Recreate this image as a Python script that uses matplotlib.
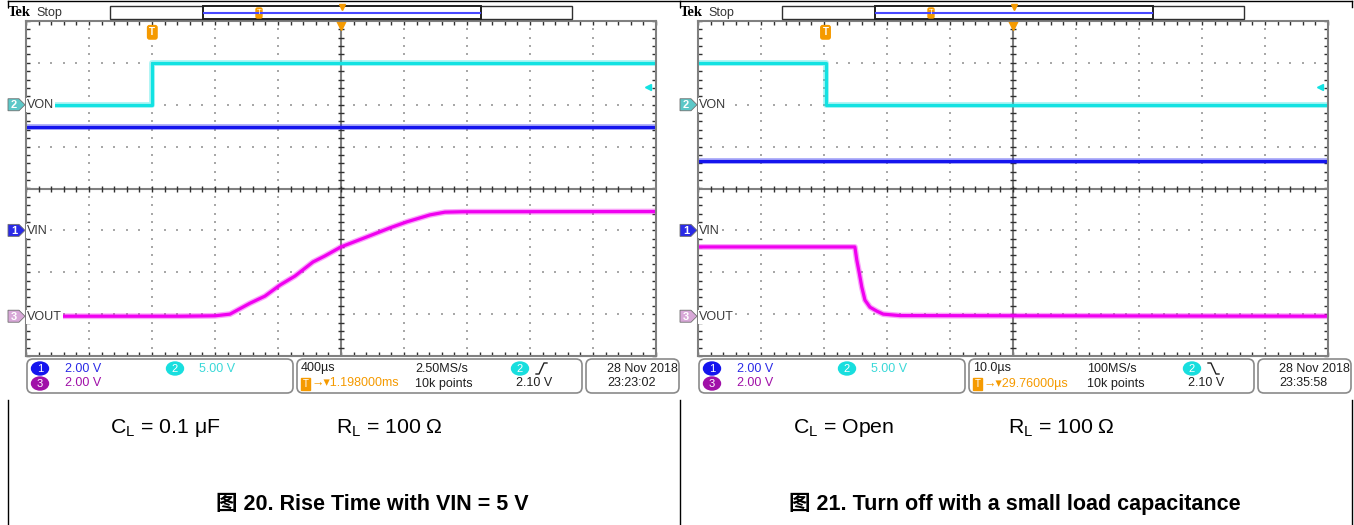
import matplotlib as mpl

mpl.use("Agg")
import matplotlib.pyplot as plt
import numpy as np
from matplotlib import font_manager
from matplotlib.patches import Polygon, FancyBboxPatch, Rectangle, Ellipse

# ---------------- data (time in us, voltage in V) ----------------
# Fig 20: rise time, 400 us/div
rise_t_von = [-2000, -1198, -1198, 2000]
rise_von = [0.0, 0.0, 5.0, 5.0]
rise_t_vin = [-2000, 2000]
rise_vin = [4.96, 4.96]
rise_t_vout = [-2000, -1020, -800, -705, -578, -483, -387, -292, -178, -102, 0,
               165, 311, 419, 565, 660, 775, 2000]
rise_vout = [0.0, 0.0, 0.02, 0.10, 0.62, 0.96, 1.49, 1.92, 2.59, 2.88, 3.31,
             3.79, 4.22, 4.51, 4.84, 4.97, 4.99, 5.0]

# Fig 21: turn off, 10 us/div
off_t_von = [-50, -29.76, -29.76, 50]
off_von = [5.0, 5.0, 0.0, 0.0]
off_t_vin = [-50, 50]
off_vin = [3.31, 3.31]
off_t_vout = [-50, -25.1, -24.8, -24.4, -24.0, -23.5, -22.7, -21.6, -20.6, -17.9, 50]
off_vout = [3.31, 3.31, 2.69, 2.06, 1.39, 0.77, 0.43, 0.24, 0.10, 0.03, 0.0]

W, H = 1354, 525
CYAN = "#12e2e2"
BLUE = "#1414ee"
MAG = "#f000f0"
PURPLE = "#a010a8"
ORANGE = "#f59a00"
GRAY = "#808080"

names = {f.name for f in font_manager.fontManager.ttflist}
UI = "Liberation Sans Narrow" if "Liberation Sans Narrow" in names else "Liberation Sans"
plt.rcParams["mathtext.default"] = "regular"

# channel: (volts/div, marker offset in div, colour, marker fill, label)
channels = {
    1: (2.0, -1.0, BLUE, "#2a2ae6", "VIN"),
    2: (5.0, 2.0, CYAN, "#5cc8c8", "VON"),
    3: (2.0, -3.05, MAG, "#d8a8d8", "VOUT"),
}

fig = plt.figure(figsize=(W / 100, H / 100), dpi=100)
bg = fig.add_axes([0, 0, 1, 1])
bg.set_xlim(0, W)
bg.set_ylim(H, 0)
bg.axis("off")
bg.set_zorder(5)

# table frame
bg.plot([8, 1352], [1, 1], color="black", lw=1)
for xx in (8, 680, 1352):
    bg.plot([xx, xx], [1, 7], color="black", lw=1)
    bg.plot([xx, xx], [400, 525], color="black", lw=1)


def ypx(div):
    return 188.5 - div * 41.875


def draw_panel(x0, tdiv, t_trig, trig_lvl, traces, edge_up, info, stamp, cl_txt, caption, cap_x):
    ax = fig.add_axes([(x0 + 26) / W, 1 - 356 / H, 630 / W, 335 / H])
    ax.set_xlim(-5, 5)
    ax.set_ylim(-4, 4)
    for sp in ax.spines.values():
        sp.set_color(GRAY)
        sp.set_linewidth(1.5)
    ax.set_xticks(np.arange(-5, 5.01, 0.2))
    ax.set_yticks(np.arange(-4, 4.01, 0.2))
    ax.tick_params(direction="in", length=3, color="#303030", width=1,
                   top=True, right=True, labelbottom=False, labelleft=False)
    # dotted graticule
    gx = np.arange(-5, 5.01, 0.2)
    gy = np.arange(-4, 4.01, 0.2)
    for k in [-4, -3, -2, -1, 1, 2, 3, 4]:
        ax.scatter(np.full_like(gy, k), gy, s=1.2, marker="s", color="#a8a8a8", lw=0)
    for k in [-3, -2, -1, 1, 2, 3]:
        ax.scatter(gx, np.full_like(gx, k), s=1.2, marker="s", color="#a8a8a8", lw=0)
    ax.axhline(0, color=GRAY, lw=1.5)
    ax.axvline(0, color=GRAY, lw=1.5)
    ax.plot(gx, np.zeros_like(gx), ls="none", marker="|", ms=5, color="#303030", mew=1)
    ax.plot(np.zeros_like(gy), gy, ls="none", marker="_", ms=5, color="#303030", mew=1)

    # traces
    for ch, t, v in traces:
        vdiv, off, col, _, _ = channels[ch]
        xs = np.array(t) / tdiv
        ys = np.array(v) / vdiv + off
        ax.plot(xs, ys, color=col, lw=4.2, alpha=0.35, solid_joinstyle="round")
        ax.plot(xs, ys, color=col, lw=2.3, solid_joinstyle="round")

    # trigger markers
    ax.text(t_trig / tdiv, 3.73, "T", color="white", fontsize=7, fontweight="bold",
            ha="center", va="center", family=UI, clip_on=False,
            bbox=dict(boxstyle="round,pad=0.18,rounding_size=0.2", fc=ORANGE, ec=ORANGE))
    ax.plot([0], [3.93], marker="v", ms=8, color=ORANGE, clip_on=False)
    ax.plot([4.87], [2 + trig_lvl / 5.0], marker="<", ms=5, color=CYAN, clip_on=False)

    # header
    bg.text(x0 + 8, 13, "Tek", family="Liberation Serif", fontweight="bold", fontsize=10.5,
            va="center", ha="left", color="black")
    bg.text(x0 + 36, 13, "Stop", family=UI, fontsize=9, va="center", ha="left", color="#333333")
    bg.add_patch(Rectangle((x0 + 110, 6), 462, 13, fc="white", ec="#303030", lw=1))
    bg.add_patch(Rectangle((x0 + 203, 6), 278, 13, fc="white", ec="#202020", lw=1.4))
    bg.plot([x0 + 204, x0 + 480], [12.5, 12.5], color="#4848ff", lw=1.5)
    bg.add_patch(FancyBboxPatch((x0 + 256, 8), 6, 10, boxstyle="round,pad=0,rounding_size=1.5",
                                fc=ORANGE, ec=ORANGE))
    bg.text(x0 + 259, 13, "T", color="white", fontsize=5.5, ha="center", va="center", family=UI)
    bg.plot([x0 + 342], [7], marker="v", ms=5, color=ORANGE)

    # channel markers + labels
    for ch, (vdiv, off, col, fill, lab) in channels.items():
        y = ypx(off)
        bg.add_patch(Polygon([(x0 + 8, y - 6), (x0 + 19, y - 6), (x0 + 25, y),
                              (x0 + 19, y + 6), (x0 + 8, y + 6)],
                             closed=True, fc=fill, ec="#707070", lw=0.6))
        bg.text(x0 + 14, y + 0.5, str(ch), color="white", fontsize=8, ha="center",
                va="center", family=UI, fontweight="bold")
        bg.text(x0 + 27, y + 0.5, lab, color="#383838", fontsize=9, ha="left", va="center",
                family=UI, bbox=dict(fc="white", ec="none", pad=0.6))

    # status bar
    for bx, bw in [(27, 266), (297, 285), (586, 93)]:
        bg.add_patch(FancyBboxPatch((x0 + bx, 359), bw, 34,
                                    boxstyle="round,pad=0,rounding_size=6",
                                    fc="white", ec="#8a8a8a", lw=1.2))
    r1, r2 = 368.5, 383.5
    fs = 9

    def chip(x, y, n, col):
        bg.add_patch(Ellipse((x0 + x, y), 17, 13, fc=col, ec=col))
        bg.text(x0 + x, y + 0.5, n, color="white", fontsize=8, ha="center", va="center", family=UI)

    chip(40, r1, "1", BLUE)
    bg.text(x0 + 65, r1, "2.00 V", color="#2a2ae6", fontsize=fs, va="center", family=UI)
    chip(175, r1, "2", "#18dede")
    bg.text(x0 + 199, r1, "5.00 V", color="#3ad8d8", fontsize=fs, va="center", family=UI)
    chip(40, r2, "3", PURPLE)
    bg.text(x0 + 65, r2, "2.00 V", color=PURPLE, fontsize=fs, va="center", family=UI)

    bg.text(x0 + 301, r1, info[0], color="#202020", fontsize=fs, va="center", family=UI)
    bg.text(x0 + 415, r1, info[1], color="#202020", fontsize=fs, va="center", family=UI)
    chip(520, r1, "2", "#18dede")
    if edge_up:
        ex, ey = [536, 539, 544, 547], [374, 374, 363, 363]
    else:
        ex, ey = [536, 539, 544, 547], [363, 363, 374, 374]
    bg.plot([x0 + e for e in ex], ey, color="#202020", lw=1)
    bg.add_patch(Rectangle((x0 + 301, r2 - 6), 9, 12, fc=ORANGE, ec=ORANGE))
    bg.text(x0 + 305.5, r2 + 0.5, "T", color="white", fontsize=7, ha="center", va="center", family=UI)
    bg.text(x0 + 311, r2, "\u2192\u25be" + info[2], color=ORANGE, fontsize=fs, va="center",
            family=[UI, "DejaVu Sans"])
    bg.text(x0 + 415, r2, "10k points", color="#202020", fontsize=fs, va="center", family=UI)
    bg.text(x0 + 516, r2, "2.10 V", color="#202020", fontsize=fs, va="center", family=UI)
    bg.text(x0 + 607, r1, "28 Nov 2018", color="#202020", fontsize=fs, va="center", family=UI)
    bg.text(x0 + 607, r2, stamp, color="#202020", fontsize=fs, va="center", family=UI)

    # captions
    bg.text(x0 + cl_txt[0], 428, cl_txt[1], fontsize=15.3, family="Liberation Sans",
            va="center", ha="left")
    bg.text(x0 + 336, 428, "R$_L$ = 100 \u03a9", fontsize=15.3, family="Liberation Sans",
            va="center", ha="left")
    bg.text(cap_x, 504, caption, fontsize=15.5, fontweight="bold",
            family=["Liberation Sans", "Noto Sans CJK SC"], va="center", ha="center")


draw_panel(0, 400, -1198, 2.10,
           [(2, rise_t_von, rise_von), (1, rise_t_vin, rise_vin), (3, rise_t_vout, rise_vout)],
           True, ["400\u00b5s", "2.50MS/s", "1.198000ms"], "23:23:02",
           (110, "C$_L$ = 0.1 \u03bcF"), "\u56fe 20. Rise Time with VIN = 5 V", 372)
draw_panel(672, 10, -29.76, 2.10,
           [(2, off_t_von, off_von), (1, off_t_vin, off_vin), (3, off_t_vout, off_vout)],
           False, ["10.0\u00b5s", "100MS/s", "29.76000\u00b5s"], "23:35:58",
           (121, "C$_L$ = Open"), "\u56fe 21. Turn off with a small load capacitance", 1015)

fig.savefig("out.png", dpi=100)
